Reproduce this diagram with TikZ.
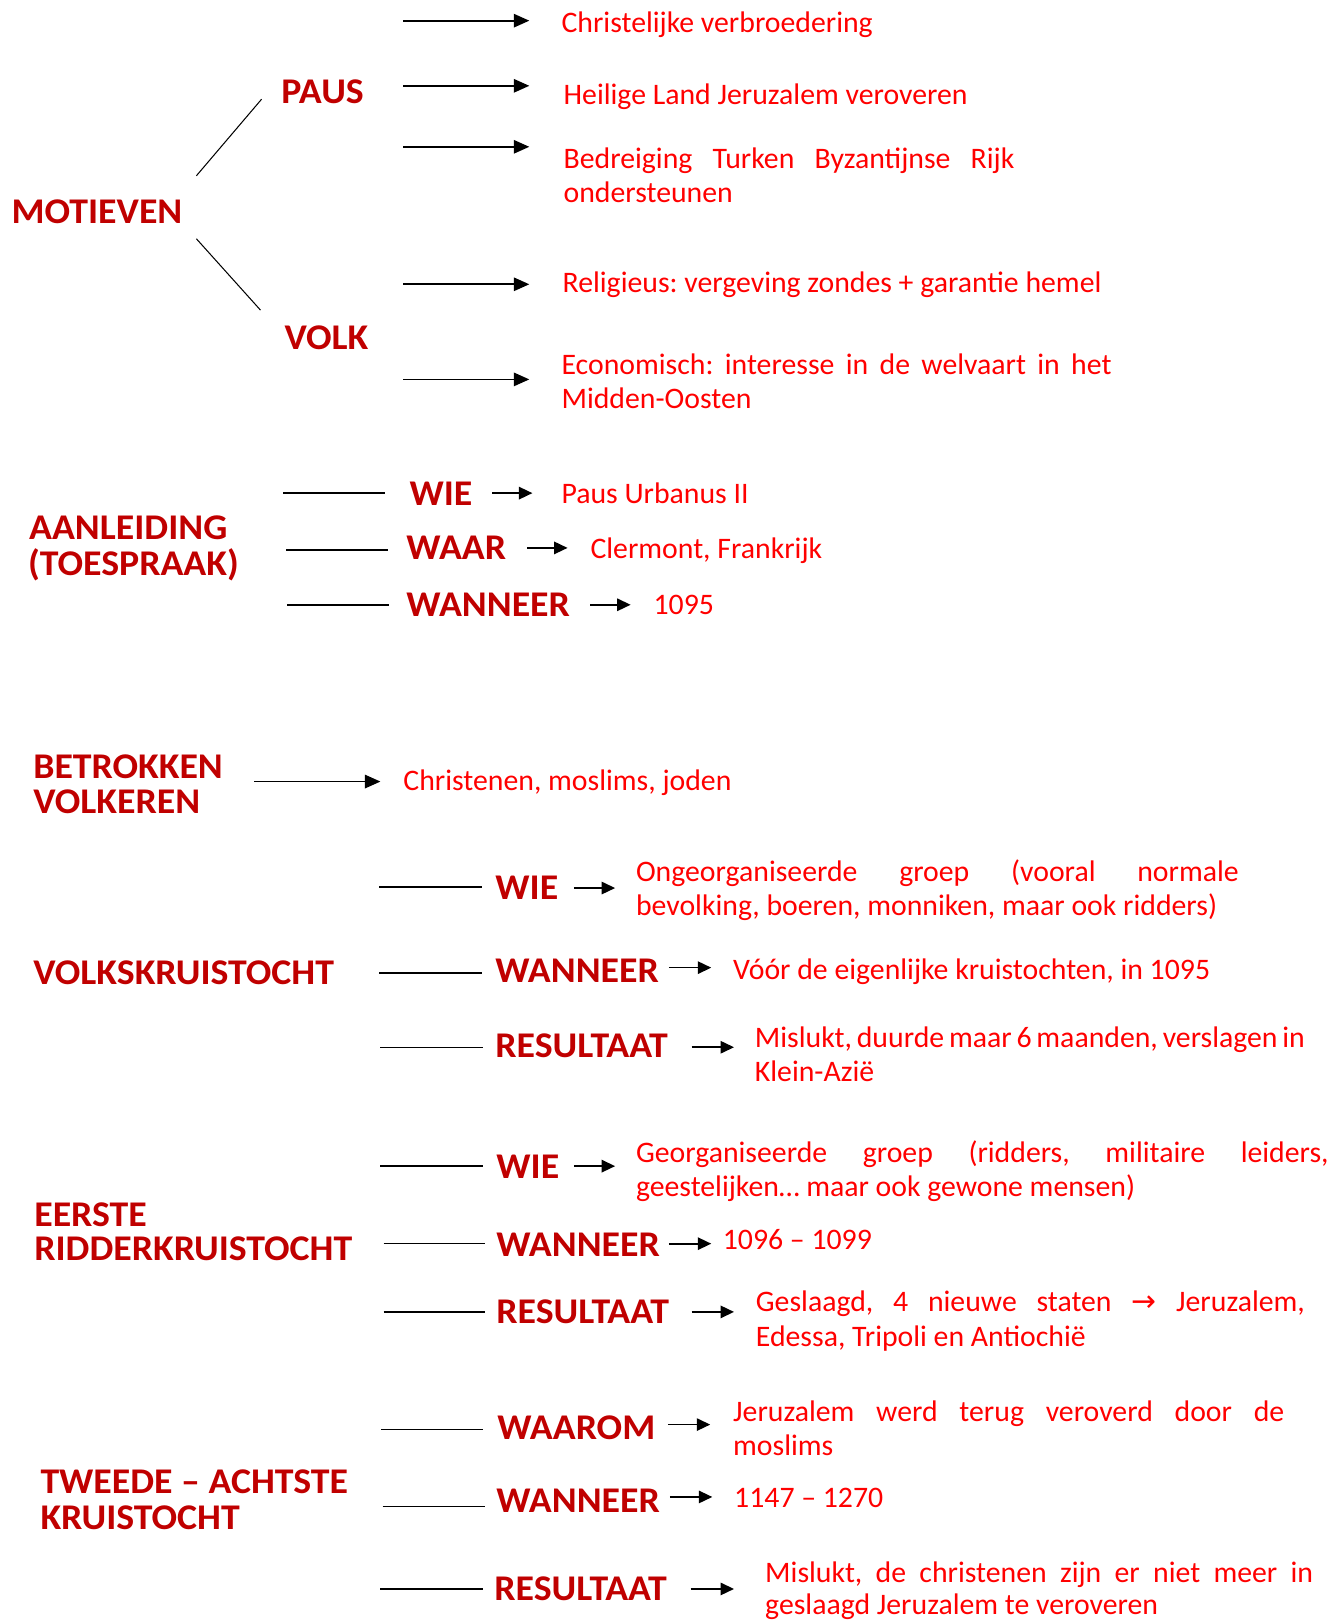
\documentclass[tikz,border=0pt]{standalone}
\usepackage{fontspec}
\setmainfont{Carlito}
\newfontfamily\headfont[FakeStretch=1.045]{Carlito}
\newfontfamily\symfont{DejaVu Sans}
\usetikzlibrary{arrows.meta}
\definecolor{hred}{RGB}{192,0,0}
\definecolor{bred}{RGB}{255,0,0}
\tikzset{
  head/.style={font=\headfont\fontsize{35}{40}\selectfont\bfseries, text=hred, anchor=base west, inner sep=0pt},
  body/.style={font=\fontsize{28.8}{33}\selectfont\frenchspacing, text=bred, anchor=base west, inner sep=0pt},
  plainline/.style={line width=1.4pt, draw=black},
  thinline/.style={line width=1pt, draw=black},
  arr/.style={line width=1.6pt, draw=black, -{Triangle[length=15pt,width=13pt]}},
  sarr/.style={line width=1.6pt, draw=black, -{Triangle[length=13pt,width=12pt]}}
}
\newcommand{\jl}[2]{\makebox[#1pt][s]{#2}}
\begin{document}
\begin{tikzpicture}[x=1pt,y=-1pt]
\useasboundingbox (0,0) rectangle (1286,1568);

% ---------------- MOTIEVEN ----------------
\node[head] (mot) at (11,216) {MOTIEVEN};
\node[head] (paus) at (272,100) {PAUS};
\node[head] (volk) at (275,338) {VOLK};
\coordinate (mu1) at (190,170); \coordinate (mu2) at (253,96);
\coordinate (md1) at (190,231); \coordinate (md2) at (252,300);
\draw[thinline] (mu1) -- (mu2);
\draw[thinline] (md1) -- (md2);

\foreach \n/\y in {1/20,2/83,3/142,4/275,5/367}{
  \coordinate (ms\n) at (390,\y); \coordinate (me\n) at (512,\y);
  \draw[arr] (ms\n) -- (me\n);
}
\node[body] (t1) at (543,31) {Christelijke verbroedering};
\node[body] (t2) at (545,101) {Heilige Land Jeruzalem veroveren};
\node[body] (t3a) at (545,163) {\jl{436}{Bedreiging Turken Byzantijnse Rijk}};
\node[body] (t3b) at (545,196) {ondersteunen};
\node[body] (t4) at (544,283) {Religieus: vergeving zondes + garantie hemel};
\node[body] (t5a) at (543,362) {\jl{532}{Economisch: interesse in de welvaart in het}};
\node[body] (t5b) at (543,395) {Midden-Oosten};

% ---------------- AANLEIDING ----------------
\node[head] (aan1) at (28,522) {AANLEIDING};
\node[head] (aan2) at (27,557) {(TOESPRAAK)};
\coordinate (al1s) at (274,477); \coordinate (al1e) at (372,477);
\coordinate (al2s) at (277,532); \coordinate (al2e) at (375,532);
\coordinate (al3s) at (278,585); \coordinate (al3e) at (376,585);
\draw[plainline] (al1s) -- (al1e);
\draw[plainline] (al2s) -- (al2e);
\draw[plainline] (al3s) -- (al3e);
\node[head] (wie1) at (396,489) {WIE};
\node[head] (waar) at (393,541) {WAAR};
\node[head] (wan1) at (393,596) {WANNEER};
\coordinate (aa1s) at (476,477); \coordinate (aa1e) at (515,477);
\coordinate (aa2s) at (510,530); \coordinate (aa2e) at (549,530);
\coordinate (aa3s) at (571,585); \coordinate (aa3e) at (610,585);
\draw[sarr] (aa1s) -- (aa1e);
\draw[sarr] (aa2s) -- (aa2e);
\draw[sarr] (aa3s) -- (aa3e);
\node[body] (urb) at (543,487) {Paus Urbanus II};
\node[body] (cler) at (571,540) {Clermont, Frankrijk};
\node[body] (y1095) at (632,594) {1095};

% ---------------- BETROKKEN VOLKEREN ----------------
\node[head] (bet1) at (32,753) {BETROKKEN};
\node[head] (bet2) at (32,787) {VOLKEREN};
\coordinate (ba1) at (246,756); \coordinate (ba2) at (368,756);
\draw[arr] (ba1) -- (ba2);
\node[body] (chr) at (390,765) {Christenen, moslims, joden};

% ---------------- VOLKSKRUISTOCHT ----------------
\node[head] (vks) at (32,952) {VOLKSKRUISTOCHT};
\coordinate (vl1s) at (367,858); \coordinate (vl1e) at (466,858);
\coordinate (vl2s) at (367,941); \coordinate (vl2e) at (466,941);
\coordinate (vl3s) at (368,1013); \coordinate (vl3e) at (467,1013);
\draw[plainline] (vl1s) -- (vl1e);
\draw[plainline] (vl2s) -- (vl2e);
\draw[plainline] (vl3s) -- (vl3e);
\node[head] (wie2) at (479,870) {WIE};
\node[head] (wan2) at (479,950) {WANNEER};
\node[head] (res1) at (479,1023) {RESULTAAT};
\coordinate (va1s) at (555,859); \coordinate (va1e) at (595,859);
\coordinate (va2s) at (647,936); \coordinate (va2e) at (688,936);
\coordinate (va3s) at (669,1013); \coordinate (va3e) at (710,1013);
\draw[sarr] (va1s) -- (va1e);
\draw[sarr] (va2s) -- (va2e);
\draw[sarr] (va3s) -- (va3e);
\node[body] (ong1) at (615,853) {\jl{583}{Ongeorganiseerde groep (vooral normale}};
\node[body] (ong2) at (615,886) {bevolking, boeren, monniken, maar ook ridders)};
\node[body] (voor) at (709,947) {Vóór de eigenlijke kruistochten, in 1095};
\node[body] (mis1a) at (730,1013) {\jl{532}{Mislukt, duurde maar 6 maanden, verslagen in}};
\node[body] (mis1b) at (730,1046) {Klein-Azië};

% ---------------- EERSTE RIDDERKRUISTOCHT ----------------
\node[head] (eer1) at (33,1186) {EERSTE};
\node[head] (eer2) at (33,1219) {RIDDERKRUISTOCHT};
\coordinate (el1s) at (368,1128); \coordinate (el1e) at (467,1128);
\coordinate (el2s) at (371,1203); \coordinate (el2e) at (469,1203);
\coordinate (el3s) at (371,1269); \coordinate (el3e) at (469,1269);
\draw[plainline] (el1s) -- (el1e);
\draw[plainline] (el2s) -- (el2e);
\draw[plainline] (el3s) -- (el3e);
\node[head] (wie3) at (480,1140) {WIE};
\node[head] (wan3) at (480,1215) {WANNEER};
\node[head] (res2) at (480,1280) {RESULTAAT};
\coordinate (ea1s) at (555,1128); \coordinate (ea1e) at (595,1128);
\coordinate (ea2s) at (647,1203); \coordinate (ea2e) at (688,1203);
\coordinate (ea3s) at (669,1269); \coordinate (ea3e) at (710,1269);
\draw[sarr] (ea1s) -- (ea1e);
\draw[sarr] (ea2s) -- (ea2e);
\draw[sarr] (ea3s) -- (ea3e);
\node[body] (geo1) at (615,1124) {\jl{670}{Georganiseerde groep (ridders, militaire leiders,}};
\node[body] (geo2) at (615,1157) {geestelijken… maar ook gewone mensen)};
\node[body] (y1096) at (699,1209) {1096 – 1099};
\node[body] (ges1) at (731,1269) {\jl{531}{Geslaagd, 4 nieuwe staten {\symfont →} Jeruzalem,}};
\node[body] (ges2) at (731,1302) {Edessa, Tripoli en Antiochië};

% ---------------- TWEEDE - ACHTSTE KRUISTOCHT ----------------
\node[head] (twe1) at (39,1445) {TWEEDE – ACHTSTE};
\node[head] (twe2) at (39,1479) {KRUISTOCHT};
\coordinate (tl1s) at (369,1383); \coordinate (tl1e) at (467,1383);
\coordinate (tl2s) at (370,1457); \coordinate (tl2e) at (469,1457);
\coordinate (tl3s) at (368,1537); \coordinate (tl3e) at (467,1537);
\draw[plainline] (tl1s) -- (tl1e);
\draw[plainline] (tl2s) -- (tl2e);
\draw[plainline] (tl3s) -- (tl3e);
\node[head] (waarom) at (481,1392) {WAAROM};
\node[head] (wan4) at (480,1463) {WANNEER};
\node[head] (res3) at (478,1548) {RESULTAAT};
\coordinate (ta1s) at (646,1378); \coordinate (ta1e) at (687,1378);
\coordinate (ta2s) at (648,1448); \coordinate (ta2e) at (689,1448);
\coordinate (ta3s) at (668,1537); \coordinate (ta3e) at (710,1537);
\draw[sarr] (ta1s) -- (ta1e);
\draw[sarr] (ta2s) -- (ta2e);
\draw[sarr] (ta3s) -- (ta3e);
\node[body] (jer1) at (709,1375) {\jl{533}{Jeruzalem werd terug veroverd door de}};
\node[body] (jer2) at (709,1408) {moslims};
\node[body] (y1147) at (710,1458) {1147 – 1270};
\node[body] (mis2a) at (740,1531) {\jl{530}{Mislukt, de christenen zijn er niet meer in}};
\node[body] (mis2b) at (740,1562) {geslaagd Jeruzalem te veroveren};
\end{tikzpicture}
\end{document}
